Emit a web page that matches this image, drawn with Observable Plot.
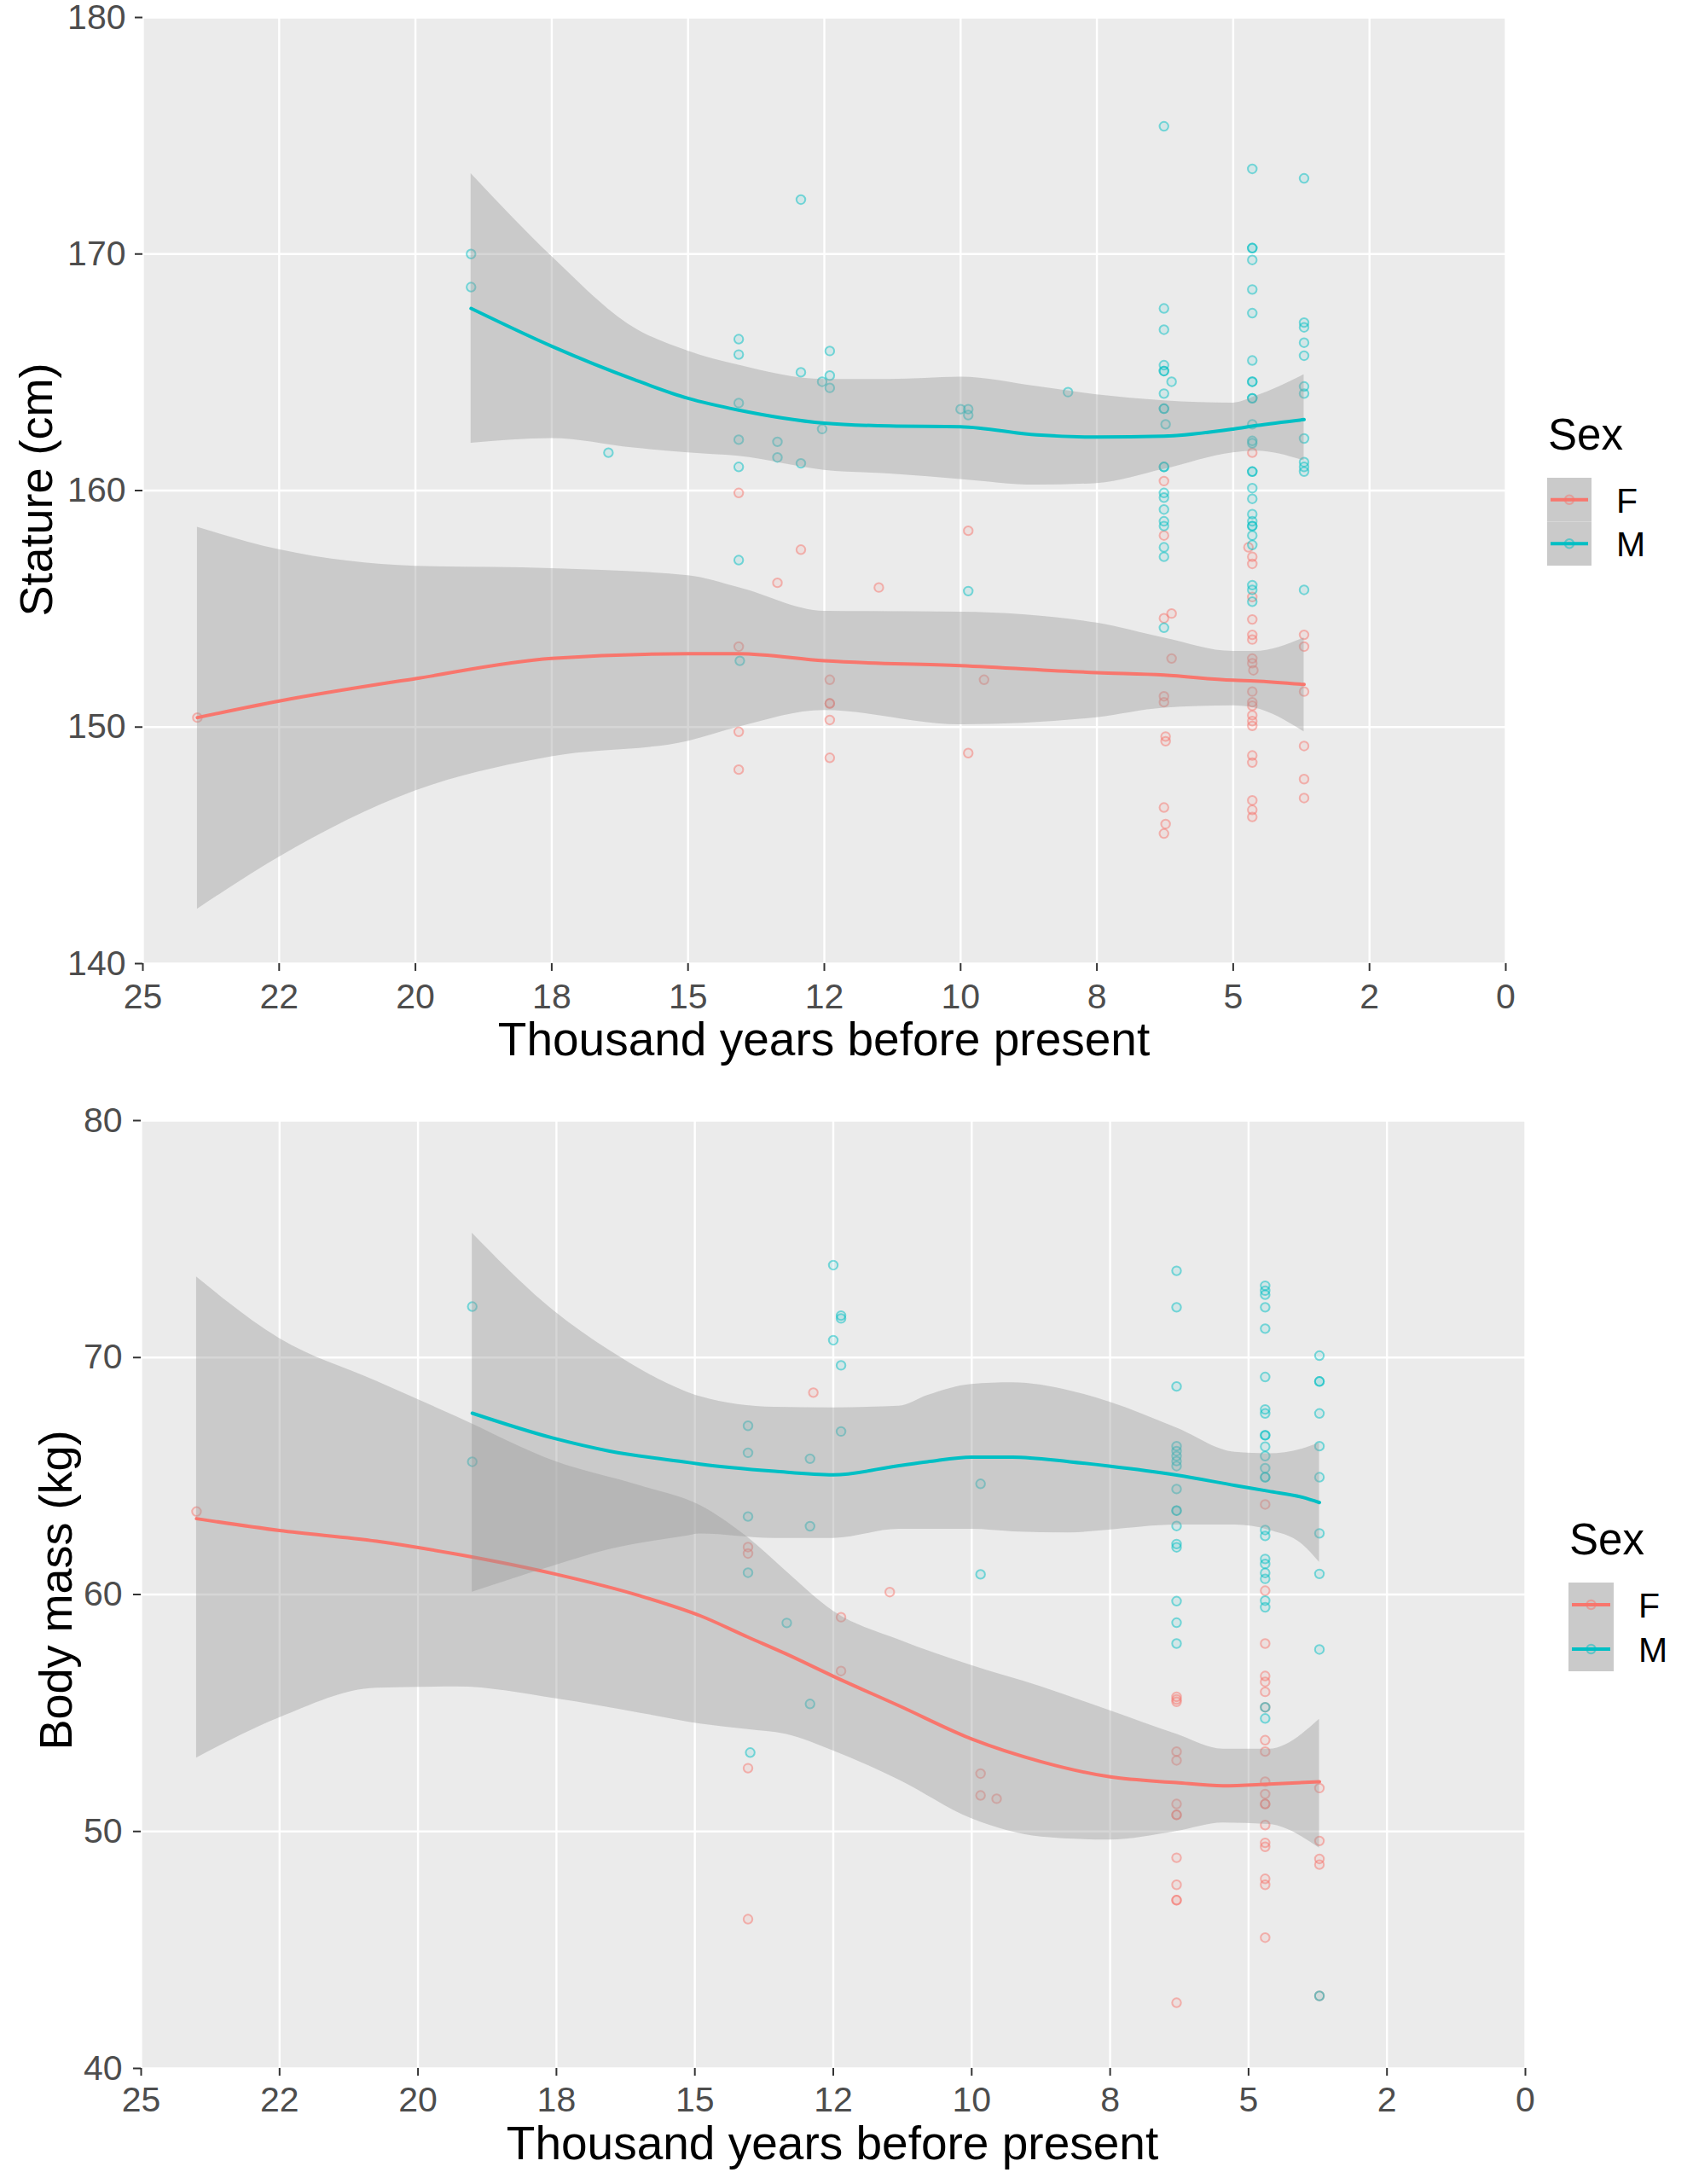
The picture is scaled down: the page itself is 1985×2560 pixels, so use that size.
<!DOCTYPE html>
<html>
<head>
<meta charset="utf-8">
<script src="https://cdn.jsdelivr.net/npm/d3@7"></script>
<script src="https://cdn.jsdelivr.net/npm/@observablehq/plot@0.6"></script>
<style>
  body { margin: 0; background: #ffffff; }
  #chart { width: 1985px; height: 2560px; background: #ffffff; }
  #chart svg { display: block; }
</style>
</head>
<body>
<div id="chart"></div>
<script>
// ---------- categories / ticks ----------
const sexes = ["F", "M"];
const sexColors = ["#F8766D", "#00BFC4"];
const xTicks = [25, 22.5, 20, 17.5, 15, 12.5, 10, 7.5, 5, 2.5, 0];
const xTickLabels = ["25", "22", "20", "18", "15", "12", "10", "8", "5", "2", "0"];
const statureTicks = [140, 150, 160, 170, 180];
const massTicks = [40, 50, 60, 70, 80];

// ---------- Stature (cm): [thousand years BP, value] ----------
const statureF = [
  [24.0,150.4],
  [14.07,159.9],[9.86,158.3],[12.93,157.5],[13.36,156.1],[11.5,155.9],[14.07,153.4],[12.4,152.0],[9.57,152.0],
  [12.4,151.0],[12.4,151.0],[12.4,150.3],[14.07,149.8],[12.4,148.7],[9.86,148.9],[14.07,148.2],
  [6.27,160.4],[6.27,158.1],[6.13,154.8],[6.27,154.6],[6.13,152.9],[6.27,151.3],[6.27,151.05],[6.24,149.6],[6.24,149.4],
  [6.27,146.6],[6.24,145.9],[6.27,145.5],
  [4.65,161.6],[4.72,157.6],[4.65,157.2],[4.65,156.9],[4.65,155.5],[4.65,154.55],[4.65,153.9],[4.65,153.7],[4.65,152.9],
  [4.65,152.7],[4.63,152.4],[4.65,151.5],[4.65,151.05],[4.65,150.9],[4.65,150.5],[4.65,150.25],[4.65,150.05],[4.65,148.8],
  [4.65,148.5],[4.65,146.9],[4.65,146.5],[4.65,146.2],
  [3.70,153.9],[3.70,153.4],[3.70,151.5],[3.70,149.2],[3.70,147.8],[3.70,147.0]
];
const statureM = [
  [18.98,170.0],[18.98,168.6],[16.46,161.6],
  [12.93,172.3],[14.07,166.4],[14.07,165.75],[12.4,165.9],[12.93,165.0],[12.4,164.86],[12.54,164.6],[12.4,164.34],
  [14.07,163.7],[10.0,163.44],[9.86,163.44],[9.86,163.19],[8.03,164.16],[12.54,162.6],[14.07,162.15],[13.36,162.06],
  [13.36,161.4],[12.93,161.15],[14.07,161.0],[14.07,157.06],[14.05,152.8],[9.86,155.75],
  [6.27,175.4],[6.27,167.7],[6.27,166.8],[6.27,165.3],[6.27,165.05],[6.27,165.05],[6.13,164.6],[6.27,164.1],[6.27,163.46],
  [6.27,163.46],[6.24,162.8],[6.27,161.0],[6.27,161.0],[6.27,159.9],[6.27,159.7],[6.27,159.2],[6.27,158.7],[6.27,158.5],
  [6.27,157.6],[6.27,157.2],[6.27,154.2],
  [4.65,173.6],[4.65,170.25],[4.65,170.25],[4.65,169.75],[4.65,168.5],[4.65,167.5],[4.65,165.5],[4.65,164.6],[4.65,164.6],
  [4.65,163.9],[4.65,163.9],[4.65,162.8],[4.65,162.1],[4.65,162.0],[4.65,160.8],[4.65,160.8],[4.65,160.1],[4.65,159.65],
  [4.65,159.0],[4.65,158.7],[4.65,158.5],[4.65,158.5],[4.65,158.1],[4.65,157.7],[4.65,156.0],[4.65,155.8],[4.65,155.3],
  [3.70,173.2],[3.70,167.1],[3.70,166.9],[3.70,166.25],[3.70,165.7],[3.70,164.4],[3.70,164.1],[3.70,162.2],[3.70,161.2],
  [3.70,161.0],[3.70,160.8],[3.70,155.8]
];
// smooth: [t, fit, lower, upper]
const statureFitF = [
  [24.0,150.4,142.3,158.45],[22.5,151.1,144.5,157.5],[20,152.05,147.3,156.8],[17.5,152.9,148.75,156.7],
  [15,153.1,149.4,156.4],[14.07,153.1,150.0,155.9],[12.5,152.8,150.7,154.9],[10,152.6,150.1,154.86],
  [7.5,152.3,150.4,154.4],[6.27,152.2,150.8,153.77],[5,151.98,150.9,153.2],[4.6,151.95,150.8,153.2],[3.7,151.8,149.8,153.77]
];
const statureFitM = [
  [18.98,167.7,162.0,173.4],[17.5,166.1,162.2,169.9],[16,164.7,161.8,166.9],[15,163.9,161.6,165.9],
  [14.07,163.4,161.45,165.3],[12.5,162.85,160.86,164.7],[11.3,162.73,160.7,164.7],[10,162.7,160.47,164.8],
  [8.6,162.35,160.23,164.4],[7.5,162.26,160.3,164.05],[6.27,162.3,160.9,163.8],[5,162.6,161.6,163.7],
  [4.57,162.75,161.67,164.0],[3.7,163.0,161.26,164.9]
];

// ---------- Body mass (kg): [thousand years BP, value] ----------
const massF = [
  [24.0,63.5],
  [12.86,68.52],[14.04,62.0],[14.04,61.73],[11.48,60.1],[12.36,59.04],[12.36,56.77],[14.04,52.67],[9.84,52.44],
  [9.84,51.52],[9.55,51.38],[14.04,46.3],
  [6.3,55.68],[6.3,55.57],[6.3,55.47],[6.3,53.37],[6.3,53.0],[6.3,51.16],[6.3,50.7],[6.3,50.7],[6.3,48.89],[6.3,47.75],
  [6.3,47.1],[6.3,47.1],[6.3,42.77],
  [4.7,63.8],[4.7,60.16],[4.7,57.93],[4.7,56.56],[4.7,56.31],[4.7,55.89],[4.7,55.24],[4.7,53.85],[4.7,53.37],[4.7,52.1],
  [4.7,51.58],[4.7,51.16],[4.7,51.16],[4.7,50.27],[4.7,49.52],[4.7,49.35],[4.7,48.0],[4.7,47.75],[4.7,45.52],
  [3.72,51.83],[3.72,49.6],[3.72,48.84],[3.72,48.6],[3.72,43.06]
];
const massM = [
  [19.02,72.15],[19.02,65.6],
  [12.5,73.9],[12.36,71.77],[12.36,71.65],[12.5,70.73],[12.36,69.67],[14.04,67.12],[12.36,66.88],[14.04,65.98],
  [12.92,65.73],[9.84,64.67],[14.04,63.29],[12.92,62.88],[14.04,60.92],[9.84,60.85],[13.34,58.8],[12.92,55.38],[14.0,53.33],
  [6.3,73.66],[6.3,72.12],[6.3,68.78],[6.3,66.26],[6.3,66.05],[6.3,65.84],[6.3,65.63],[6.3,65.42],[6.3,64.45],[6.3,63.54],
  [6.3,63.54],[6.3,62.89],[6.3,62.13],[6.3,61.99],[6.3,59.72],[6.3,58.81],[6.3,57.93],
  [4.7,73.03],[4.7,72.82],[4.7,72.65],[4.7,72.12],[4.7,71.22],[4.7,69.18],[4.7,67.81],[4.7,67.64],[4.7,66.72],[4.7,66.72],
  [4.7,66.24],[4.7,65.84],[4.7,65.33],[4.7,64.95],[4.7,64.95],[4.7,62.72],[4.7,62.47],[4.7,61.5],[4.7,61.29],[4.7,60.91],
  [4.7,60.66],[4.7,59.74],[4.7,59.46],[4.7,55.24],[4.7,54.77],
  [3.72,70.08],[3.72,68.99],[3.72,68.99],[3.72,67.64],[3.72,66.26],[3.72,64.95],[3.72,62.58],[3.72,60.87],[3.72,57.68],[3.72,43.06]
];
const massFitF = [
  [24.0,63.2,53.1,73.4],[22.5,62.7,54.8,70.8],[20.75,62.25,56.05,69.0],[19.3,61.7,56.1,67.5],[17.5,60.85,55.6,65.6],
  [16.0,59.95,55.0,64.6],[14.9,59.1,54.54,63.75],[14.04,58.2,54.3,62.4],[13.36,57.5,54.1,61.0],[12.5,56.55,53.4,59.3],
  [11.31,55.3,52.17,58.08],[10,53.9,50.54,57.0],[8.74,52.94,49.77,56.1],[7.52,52.31,49.64,55.11],[6.3,52.06,50.0,54.1],
  [5.46,51.93,50.36,53.47],[4.63,52.0,50.3,53.47],[3.72,52.1,49.3,54.73]
];
const massFitM = [
  [19.02,67.65,60.1,75.25],[17.56,66.6,61.2,72.0],[16.54,66.05,61.9,70.3],[15.2,65.6,62.45,68.6],
  [14.9,65.5,62.56,68.35],[13.56,65.2,62.37,67.9],[12.5,65.05,62.37,67.88],[11.31,65.44,62.75,67.95],
  [10.8,65.6,62.75,68.4],[10,65.8,62.75,68.87],[9.26,65.8,62.65,68.94],[8.23,65.6,62.6,68.6],[7.52,65.42,62.72,68.13],
  [6.3,65.04,62.93,67.03],[5.24,64.6,62.93,66.0],[4.64,64.36,62.72,65.94],[4.02,64.1,62.1,66.15],[3.72,63.88,61.36,66.4]
];

// ---------- drawing ----------
const FONT = "'Liberation Sans', Arial, Helvetica, sans-serif";
const CURVE = "monotone-x";

function drawPanel(cfg) {
  const dotOpts = (c) => ({x: d => d[0], y: d => d[1], r: 5.2, stroke: c, strokeOpacity: 0.5, strokeWidth: 2, fill: c, fillOpacity: 0.1});
  const bandOpts = {x: d => d[0], y1: d => d[2], y2: d => d[3], fill: "#999999", fillOpacity: 0.4, curve: CURVE};
  const lineOpts = (c) => ({x: d => d[0], y: d => d[1], stroke: c, strokeWidth: 4, curve: CURVE});
  const svg = Plot.plot({
    width: 1985,
    height: cfg.height,
    marginTop: cfg.mt, marginBottom: cfg.mb, marginLeft: cfg.ml, marginRight: cfg.mr,
    style: {fontFamily: FONT, background: "#ffffff", color: "#333333", overflow: "visible"},
    x: {domain: [25, 0]},
    y: {domain: cfg.yDomain},
    marks: [
      Plot.frame({fill: "#EBEBEB", stroke: "none"}),
      Plot.gridX(xTicks, {stroke: "#ffffff", strokeOpacity: 1, strokeWidth: 2.4}),
      Plot.gridY(cfg.yTicks, {stroke: "#ffffff", strokeOpacity: 1, strokeWidth: 2.4}),
      Plot.dot(cfg.ptsF, dotOpts(sexColors[0])),
      Plot.dot(cfg.ptsM, dotOpts(sexColors[1])),
      Plot.areaY(cfg.fitF, bandOpts),
      Plot.line(cfg.fitF, lineOpts(sexColors[0])),
      Plot.areaY(cfg.fitM, bandOpts),
      Plot.line(cfg.fitM, lineOpts(sexColors[1])),
      Plot.axisX(xTicks, {tickFormat: d => xTickLabels[xTicks.indexOf(d)], tickSize: 9, tickPadding: cfg.xPad, fontSize: 41, label: null, strokeWidth: 2}),
      Plot.axisY(cfg.yTicks, {tickSize: 9, tickPadding: cfg.yPad, fontSize: 41, label: null, strokeWidth: 2})
    ]
  });
  const s = d3.select(svg);
  s.selectAll('g[aria-label="x-axis tick label"], g[aria-label="y-axis tick label"]')
    .attr("fill", "#4D4D4D").attr("font-size", 41).style("font-size", "41px")
    .selectAll("text").attr("fill", "#4D4D4D").style("font-size", "41px");

  // axis titles
  s.append("text").attr("x", cfg.xTitle[0]).attr("y", cfg.xTitle[1])
    .attr("text-anchor", "middle").attr("font-family", FONT).attr("fill", "#000").style("font-size", "55px")
    .text("Thousand years before present");
  s.append("text").attr("transform", `translate(${cfg.yTitle[0]},${cfg.yTitle[1]}) rotate(-90)`)
    .attr("text-anchor", "middle").attr("font-family", FONT).attr("fill", "#000").style("font-size", "54px")
    .text(cfg.yLabel);

  // legend
  const lg = s.append("g").attr("font-family", FONT).attr("text-anchor", "start");
  const [lx, ly, kw, kh] = cfg.legend;
  lg.append("text").attr("x", lx + 1).attr("y", ly - 33).attr("text-anchor", "start")
    .style("font-size", "51px").attr("fill", "#000").text("Sex");
  sexes.forEach((sx, i) => {
    const ky = ly + i * kh;
    lg.append("rect").attr("x", lx).attr("y", ky).attr("width", kw).attr("height", kh).attr("fill", "#CACACA");
    lg.append("line").attr("x1", lx + 4).attr("x2", lx + kw - 4).attr("y1", ky + kh / 2).attr("y2", ky + kh / 2)
      .attr("stroke", sexColors[i]).attr("stroke-width", 4);
    lg.append("circle").attr("cx", lx + kw / 2).attr("cy", ky + kh / 2).attr("r", 5.2)
      .attr("fill", sexColors[i]).attr("fill-opacity", 0.1).attr("stroke", sexColors[i]).attr("stroke-opacity", 0.5).attr("stroke-width", 2);
    lg.append("text").attr("x", lx + kw + 29).attr("y", ky + kh / 2).attr("dy", "0.36em").attr("text-anchor", "start")
      .style("font-size", "41px").attr("fill", "#000").text(sx);
  });
  return svg;
}

const chart = document.getElementById("chart");
chart.appendChild(drawPanel({
  height: 1290, mt: 20, mb: 161, ml: 167, mr: 220,
  yDomain: [140, 180], yTicks: statureTicks,
  ptsF: statureF, ptsM: statureM, fitF: statureFitF, fitM: statureFitM,
  xPad: 14, yPad: 11,
  xTitle: [966, 1237], yTitle: [61, 574], yLabel: "Stature (cm)",
  legend: [1814, 560, 52, 51.5]
}));
chart.appendChild(drawPanel({
  height: 1270, mt: 23, mb: 136, ml: 165, mr: 197,
  yDomain: [40, 80], yTicks: massTicks,
  ptsF: massF, ptsM: massM, fitF: massFitF, fitM: massFitM,
  xPad: 12, yPad: 13,
  xTitle: [976, 1241], yTitle: [84, 574], yLabel: "Body mass (kg)",
  legend: [1839, 565, 53, 52]
}));
</script>
</body>
</html>
